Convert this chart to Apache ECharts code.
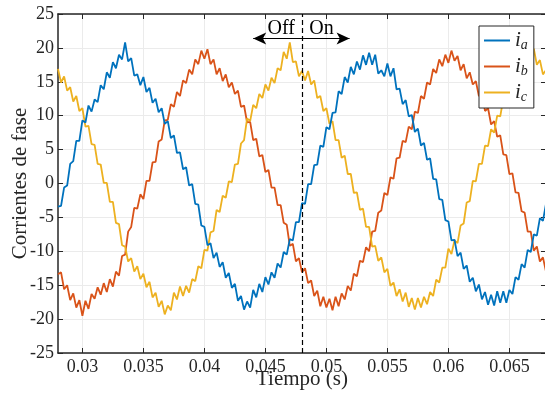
<!DOCTYPE html>
<html>
<head>
<meta charset="utf-8">
<script src="https://cdn.jsdelivr.net/npm/echarts@6/dist/echarts.min.js"></script>
<style>html,body{margin:0;padding:0;background:#fff}#c{width:545px;height:396px}</style>
</head>
<body>
<div id="c"></div>
<script>
// Sampling grid of the recorded signals
const t0 = 0.028, dt = 0.00025;
// Phase currents
const ia = [-3.4,-3.3,-0.6,-0.3,2.9,3.3,6.3,6.3,9.3,9.0,
11.5,10.6,12.4,12.0,14.5,13.9,16.4,15.6,17.9,17.0,
19.0,18.3,20.8,18.0,18.5,15.9,16.1,14.5,15.7,13.5,
14.1,11.9,12.5,10.5,11.1,8.8,9.2,6.7,7.1,4.5,
4.6,2.1,2.4,-0.3,-0.1,-3.0,-3.1,-6.2,-6.4,-9.1,
-8.8,-11.0,-10.2,-12.3,-11.6,-13.9,-13.2,-15.4,-14.8,-17.3,
-16.6,-18.6,-17.4,-18.3,-15.7,-16.8,-14.8,-16.0,-13.8,-14.9,
-13.1,-13.9,-11.8,-12.4,-10.1,-10.5,-8.2,-8.4,-5.7,-5.7,
-2.9,-3.0,-0.1,-0.1,2.7,2.8,5.6,5.4,8.3,8.0,
10.4,10.5,13.6,13.2,15.7,14.9,17.2,16.1,18.0,16.8,
18.9,17.5,19.3,17.5,19.0,16.2,16.7,15.8,17.7,15.8,
17.0,13.9,14.0,11.7,12.3,9.9,10.1,7.6,8.1,5.6,
6.0,3.5,3.7,0.7,0.6,-2.3,-2.4,-5.4,-5.6,-8.4,
-8.3,-10.7,-10.2,-12.6,-12.1,-14.5,-13.9,-15.9,-14.9,-17.1,
-16.0,-17.9,-16.4,-18.0,-15.9,-17.6,-15.9,-17.6,-15.7,-16.3,
-13.8,-14.2,-11.9,-12.4,-9.8,-10.1,-7.5,-7.7,-5.1,-5.5,
-3.0];
const ib = [-13.4,-13.1,-15.6,-15.0,-17.2,-16.2,-18.3,-17.2,-19.5,-17.3,
-18.5,-16.3,-17.0,-15.3,-16.4,-14.7,-16.0,-14.1,-15.2,-13.0,
-13.6,-10.7,-10.5,-7.1,-6.4,-3.6,-3.7,-1.6,-2.3,0.4,
0.4,3.1,3.2,6.2,6.5,9.3,9.4,11.7,11.3,13.5,
12.9,15.2,14.8,16.8,16.1,18.3,17.6,19.6,18.4,19.8,
17.6,18.3,16.1,17.0,15.1,16.1,14.2,14.9,13.2,13.7,
11.3,11.5,9.0,9.1,6.4,6.6,4.0,4.2,1.7,2.0,
-0.6,-0.6,-3.2,-3.2,-5.8,-6.1,-9.2,-8.9,-11.5,-11.0,
-13.1,-12.5,-14.7,-14.3,-16.6,-15.8,-18.1,-16.7,-18.3,-17.0,
-18.7,-16.7,-18.1,-16.2,-17.1,-15.1,-15.8,-13.3,-13.7,-11.4,
-11.6,-9.4,-10.0,-7.1,-7.0,-4.3,-4.0,-1.4,-1.7,0.9,
0.7,3.7,3.8,6.3,6.1,8.4,8.0,10.6,10.4,12.9,
12.5,14.9,14.6,16.9,16.3,18.3,17.3,19.0,17.8,19.6,
18.1,18.8,16.7,17.6,15.5,16.4,14.6,15.1,12.9,13.2,
10.7,11.1,8.7,9.2,6.9,7.1,4.3,4.2,1.4,1.5,
-1.3,-1.4,-4.1,-4.3,-7.1,-7.1,-9.9,-9.3,-11.5,-10.9,
-13.0];
const ic = [16.9,14.9,15.8,13.7,14.2,12.1,12.9,10.7,11.1,8.4,
8.5,5.8,5.7,2.9,2.8,0.1,0.1,-2.7,-2.7,-5.8,
-6.0,-9.1,-9.3,-11.5,-11.0,-13.0,-12.2,-14.1,-13.3,-15.3,
-14.5,-16.8,-16.1,-18.2,-17.3,-19.3,-18.0,-18.7,-16.1,-17.1,
-15.2,-16.6,-15.1,-16.1,-14.1,-14.4,-12.2,-12.5,-9.8,-9.9,
-7.2,-7.0,-3.9,-4.2,-1.8,-2.1,0.3,0.2,2.8,2.9,
5.9,6.4,9.6,9.2,11.6,11.1,13.2,12.6,14.6,13.7,
15.6,14.8,17.0,16.7,19.4,18.4,20.8,17.9,18.0,15.8,
16.6,15.2,16.6,14.6,15.2,12.6,12.9,10.7,11.1,8.8,
9.2,6.4,6.4,3.8,4.1,1.4,1.4,-1.4,-1.3,-3.9,
-3.7,-6.4,-6.4,-9.3,-9.2,-11.4,-10.9,-13.1,-12.6,-15.1,
-14.6,-16.6,-15.6,-17.4,-16.1,-18.2,-16.9,-18.6,-16.9,-18.3,
-16.7,-17.8,-16.0,-16.6,-14.2,-14.6,-12.4,-12.4,-9.6,-10.4,
-8.4,-8.8,-6.2,-5.9,-2.8,-2.6,0.4,0.3,2.9,2.9,
5.6,5.5,8.0,7.5,10.0,9.9,12.5,12.2,14.6,13.9,
16.0,15.2,17.2,16.5,18.6,17.7,19.9,17.5,18.2,16.1,
16.7];
const xTicks = [0.03, 0.035, 0.04, 0.045, 0.05, 0.055, 0.06, 0.065];
const yTicks = [-25, -20, -15, -10, -5, 0, 5, 10, 15, 20, 25];
const names = ['ia', 'ib', 'ic'];
const switchTime = 0.048;
const offOnText = ['Off', 'On'];

const time = ia.map((_, i) => +(t0 + i * dt).toFixed(6));
const pairs = arr => arr.map((v, i) => [time[i], v]);

const serif = 'Liberation Serif';
const colors = ['#0072BD', '#D95319', '#EDB120'];
const chart = echarts.init(document.getElementById('c'), null, {renderer: 'canvas'});

const axisLine = {show: true, onZero: false, lineStyle: {color: '#262626', width: 1.5}};
const tick = vals => ({show: true, inside: true, length: 5, customValues: vals, lineStyle: {color: '#262626', width: 1}});

chart.setOption({
  animation: false,
  backgroundColor: '#fff',
  color: colors,
  grid: {left: 58, top: 14, width: 488, height: 339, containLabel: false, outerBoundsMode: 'none'},
  xAxis: [{
    type: 'value', min: 0.028, max: 0.068, position: 'bottom',
    axisLine: axisLine, axisTick: tick(xTicks),
    axisLabel: {customValues: xTicks, margin: 5, fontFamily: serif, fontSize: 18, color: '#262626'},
    splitLine: {show: true, lineStyle: {color: '#ebebeb', width: 1}},
    name: 'Tiempo (s)', nameLocation: 'middle', nameGap: 16, nameMoveOverlap: false,
    nameTextStyle: {fontFamily: serif, fontSize: 21, color: '#262626', verticalAlign: 'top'}
  }, {
    type: 'value', min: 0.028, max: 0.068, position: 'top',
    axisLine: axisLine, axisTick: tick(xTicks),
    axisLabel: {show: false}, splitLine: {show: false}
  }],
  yAxis: [{
    type: 'value', min: -25, max: 25, interval: 5, position: 'left',
    axisLine: axisLine, axisTick: {show: true, inside: true, length: 5, lineStyle: {color: '#262626'}},
    axisLabel: {margin: 4, fontFamily: serif, fontSize: 18, color: '#262626'},
    splitLine: {show: true, lineStyle: {color: '#ebebeb', width: 1}},
    name: 'Corrientes de fase', nameLocation: 'middle', nameGap: 27, nameMoveOverlap: false,
    nameTextStyle: {fontFamily: serif, fontSize: 21, color: '#262626'}
  }, {
    type: 'value', min: -25, max: 25, interval: 5, position: 'right',
    axisLine: axisLine, axisTick: {show: true, inside: true, length: 5, lineStyle: {color: '#262626'}},
    axisLabel: {show: false}, splitLine: {show: false}
  }],
  legend: {
    orient: 'vertical', left: 479, top: 26,
    padding: [4, 6, 4, 5], itemGap: 4, itemWidth: 26, itemHeight: 2, icon: 'rect',
    backgroundColor: '#fff', borderColor: '#262626', borderWidth: 1, borderRadius: 0,
    data: names,
    formatter: n => '{i|i}{s|' + n.slice(1) + '}',
    textStyle: {
      color: '#262626',
      rich: {
        i: {fontFamily: serif, fontStyle: 'italic', fontSize: 21, color: '#262626'},
        s: {fontFamily: serif, fontStyle: 'italic', fontSize: 14, color: '#262626', padding: [9, 0, 0, 0]}
      }
    }
  },
  series: [
    {
      name: names[0], type: 'line', data: pairs(ia), showSymbol: false, symbol: 'none',
      lineStyle: {width: 1.8}, z: 3,
      markLine: {
        silent: true, symbol: ['none', 'none'], label: {show: false},
        lineStyle: {type: [5, 3], color: '#000', width: 1.2},
        data: [[{coord: [switchTime, -25]}, {coord: [switchTime, 25]}]]
      }
    },
    {
      name: names[1], type: 'line', data: pairs(ib), showSymbol: false, symbol: 'none',
      lineStyle: {width: 1.8}, z: 2,
      markLine: {
        silent: true, symbol: ['arrow', 'arrow'], symbolSize: [9, 13], label: {show: false},
        lineStyle: {type: 'solid', color: '#000', width: 1.2},
        data: [[{coord: [0.0440, 21.4]}, {coord: [0.0519, 21.4]}]]
      }
    },
    {
      name: names[2], type: 'line', data: pairs(ic), showSymbol: false, symbol: 'none',
      lineStyle: {width: 1.8}, z: 2,
      markPoint: {
        silent: true, symbol: 'circle', symbolSize: 0,
        itemStyle: {color: 'transparent'},
        label: {show: true, position: 'inside', formatter: p => p.name,
          fontFamily: serif, fontSize: 20, color: '#000'},
        data: [
          {name: offOnText[0], coord: [0.0463, 22.8]},
          {name: offOnText[1], coord: [0.0496, 22.8]}
        ]
      }
    }
  ]
});
</script>
</body>
</html>
